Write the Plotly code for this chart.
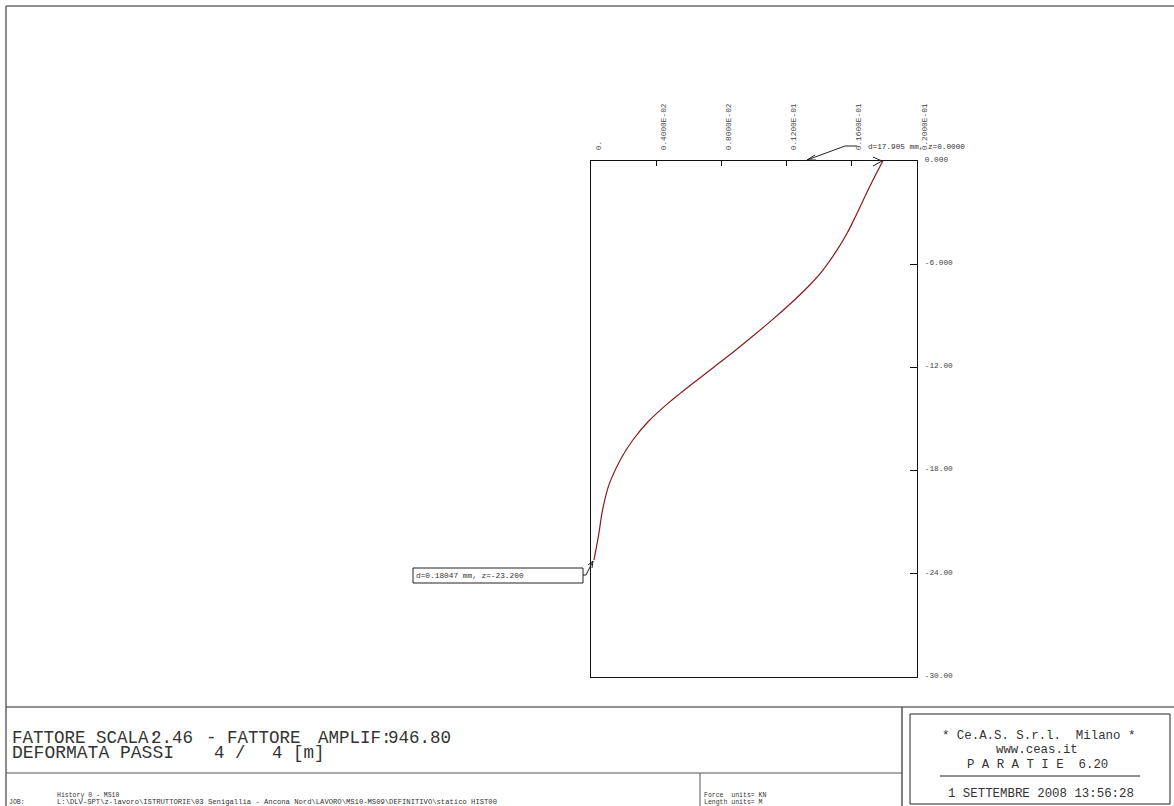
import plotly.graph_objects as go

W, H = 1174, 806

# ---- data ----
depth_m = [0, -1.105, -2.076, -3.14, -4.20, -5.17, -6.34, -7.15, -8.08, -9.15, -10.12, -11.09, -11.99, -12.73, -13.51, -14.09, -15.16, -16.22, -17.28, -18.51, -19.03, -20.29, -21.84, -23.2]
displacement_m = [0.017905, 0.01730, 0.01680, 0.01627, 0.01571, 0.01510, 0.01423, 0.01348, 0.01248, 0.01122, 0.01001, 0.00875, 0.00753, 0.00652, 0.00547, 0.00472, 0.00350, 0.00257, 0.00185, 0.00123, 0.00103, 0.00071, 0.00045, 0.00018]
x_tick_values = [0, 0.004, 0.008, 0.012, 0.016, 0.02]
x_tick_labels = ["0.", "0.4000E-02", "0.8000E-02", "0.1200E-01", "0.1600E-01", "0.2000E-01"]
y_tick_values = [0, -6, -12, -18, -24, -30]
y_tick_labels = ["0.000", "-6.000", "-12.00", "-18.00", "-24.00", "-30.00"]
top_note = "d=17.905 mm, z=0.0000"
bottom_note = "d=0.18047 mm, z=-23.200"
job_path = r"L:\DLV-SPT\z-lavoro\ISTRUTTORIE\03 Senigallia - Ancona Nord\LAVORO\MS10-MS09\DEFINITIVO\statico HIST00"

MONO = "Liberation Mono"
GREY = "#444444"


def px(x):
    return x / W


def py(y):
    return 1 - y / H


def line(x0, y0, x1, y1, width=1, color="#222222"):
    return dict(type="line", xref="paper", yref="paper", x0=px(x0), y0=py(y0), x1=px(x1), y1=py(y1),
                line=dict(color=color, width=width))


def text(x, y, s, size, anchor="left", color="#333333", family=MONO):
    return dict(xref="paper", yref="paper", x=px(x), y=py(y), text=s, showarrow=False,
                xanchor=anchor, yanchor="middle", align=anchor,
                borderpad=0, font=dict(family=family, size=size, color=color))


fig = go.Figure(go.Scatter(x=displacement_m, y=depth_m, mode="lines", line=dict(color="#8b1a1a", width=1.2, shape="spline"),
                           hoverinfo="skip", showlegend=False))

shapes = [
    line(6, 6, 1174, 6), line(6, 6, 6, 806, color="#666666", width=1.5), line(6, 707, 1174, 707),
    line(6, 773, 902, 773, color="#555555"), line(902, 707, 902, 806, color="#555555", width=1.5), line(700, 773, 700, 806, color="#555555"),
    line(910, 714, 1170, 714), line(910, 714, 910, 804), line(1170, 714, 1170, 804), line(910, 804, 1170, 804),
    line(940, 776, 1140, 776),
    line(857, 146, 845, 146), line(845, 146, 807, 160),
    line(807, 160, 815, 155), line(807, 160, 816, 160),
    line(873, 157, 882, 161), line(873, 166, 882, 161),
    line(413, 568, 583, 568), line(413, 583, 583, 583), line(413, 568, 413, 583), line(583, 568, 583, 583),
    line(583, 575, 586, 575), line(586, 575, 593, 561),
    line(593, 561, 588, 565), line(593, 561, 592, 568),
]

annotations = [
    text(11, 738, "FATTORE SCALA:", 17.5),
    text(150, 738, "2.46", 17.5),
    text(205, 738, "- FATTORE", 17.5),
    text(317, 738, "AMPLIF:", 17.5),
    text(387, 738, "946.80", 17.5),
    text(11, 753, "DEFORMATA PASSI", 18),
    text(213, 753, "4 /", 17.5),
    text(271, 753, "4 [m]", 17.5),
    text(56, 795, "History 0 - MS10", 6.5),
    text(8, 802, "JOB:", 6.5),
    text(56, 802, job_path, 7.2),
    text(703, 795, "Force  units= KN", 6.5),
    text(703, 802, "Length units= M", 6.5),
    text(1038, 736, "* Ce.A.S. S.r.l.  Milano *", 12.4, "center"),
    text(1037, 750, "www.ceas.it", 12.4, "center"),
    text(1037, 765, "P A R A T I E  6.20", 12.4, "center"),
    text(1041, 794, "1 SETTEMBRE 2008 13:56:28", 12.4, "center"),
    text(867, 147, top_note, 7.7),
    text(415, 576, bottom_note, 7.8),
]

fig.update_layout(
    width=W, height=H, margin=dict(l=0, r=0, t=0, b=0, autoexpand=False), autosize=False,
    paper_bgcolor="white", plot_bgcolor="white", showlegend=False,
    shapes=shapes, annotations=annotations,
    xaxis=dict(domain=[px(591), px(917)], range=[0, 0.02], side="top", showgrid=False, zeroline=False,
               tickmode="array", tickvals=x_tick_values, ticktext=x_tick_labels, tickangle=-90,
               ticks="inside", ticklen=5, tickcolor="#111111", showline=True, linecolor="#111111", linewidth=1.3, mirror=True,
               tickfont=dict(family=MONO, size=7.8, color=GREY), ticklabelstandoff=8, ticklabelshift=7),
    yaxis=dict(domain=[py(677), py(161)], range=[-30, 0], side="right", showgrid=False, zeroline=False,
               tickmode="array", tickvals=y_tick_values, ticktext=y_tick_labels,
               ticks="inside", ticklen=7, tickcolor="#111111", showline=True, linecolor="#111111", linewidth=1.3, mirror=True,
               tickfont=dict(family=MONO, size=7.8, color=GREY), ticklabelstandoff=5, ticklabelshift=-2),
)

fig.write_html("out.html", config={"displayModeBar": False},
               post_script="document.body.style.margin='0';document.body.style.overflow='hidden';")
